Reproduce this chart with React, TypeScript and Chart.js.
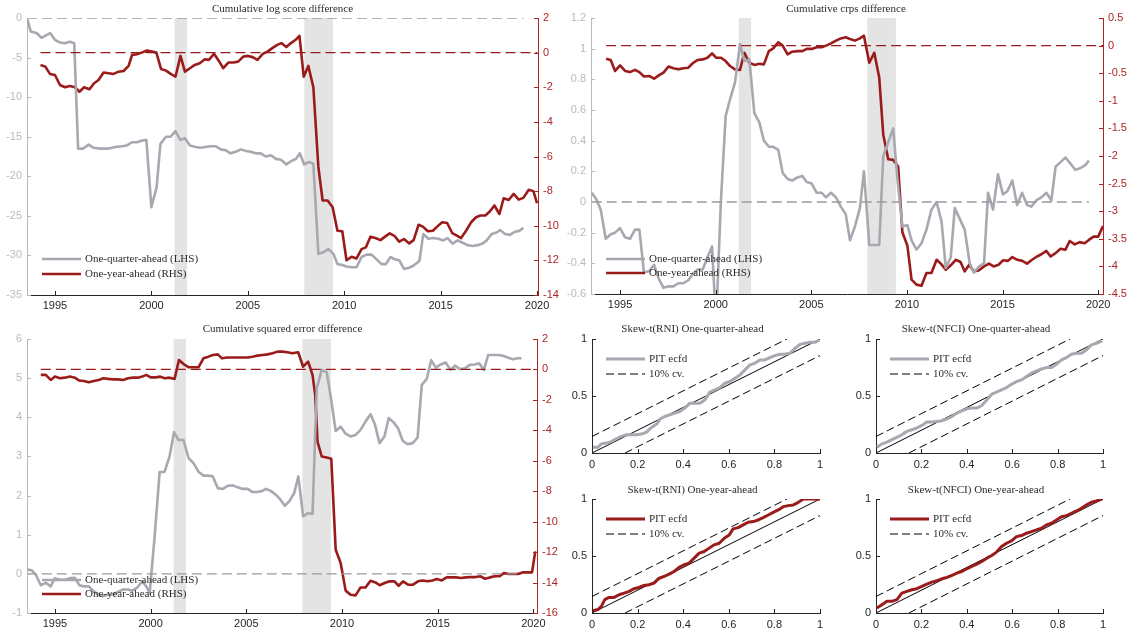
import React, { useEffect, useRef } from "react";
import { Chart, registerables } from "chart.js";

Chart.register(...registerables);

// ---------------- data ----------------
const yearTicks = [1995, 2000, 2005, 2010, 2015, 2020];
const recessions: [number, number][] = [
  [2001.2, 2001.85],
  [2007.93, 2009.42],
];

// Cumulative log score difference
const logQDates = [1993.55,1993.74,1994.05,1994.3,1994.75,1995.0,1995.26,1995.5,1995.78,1996.0,1996.2,1996.47,1996.74,1997.0,1997.35,1997.78,1998.13,1998.47,1998.73,1999.0,1999.25,1999.48,1999.74,2000.0,2000.27,2000.47,2000.76,2001.0,2001.25,2001.5,2001.74,2002.0,2002.3,2002.55,2002.8,2003.07,2003.33,2003.6,2003.85,2004.1,2004.38,2004.64,2004.9,2005.15,2005.4,2005.67,2005.93,2006.2,2006.46,2006.72,2007.0,2007.24,2007.5,2007.7,2007.92,2008.16,2008.4,2008.66,2008.92,2009.18,2009.44,2009.65,2009.9,2010.12,2010.38,2010.64,2010.9,2011.16,2011.42,2011.68,2011.94,2012.16,2012.4,2012.63,2012.85,2013.1,2013.32,2013.58,2013.9,2014.1,2014.36,2014.62,2014.88,2015.14,2015.36,2015.62,2015.88,2016.14,2016.4,2016.66,2016.92,2017.18,2017.39,2017.65,2017.9,2018.08,2018.34,2018.6,2018.86,2019.08,2019.29];
const logQVals = [0,-1.7,-1.9,-2.5,-1.9,-2.75,-3.1,-3.2,-3.0,-3.2,-16.5,-16.5,-16.0,-16.4,-16.5,-16.5,-16.3,-16.2,-16.1,-15.7,-15.7,-15.5,-15.4,-23.9,-21.4,-15.9,-15.0,-15.0,-14.3,-15.4,-15.2,-16.1,-16.3,-16.4,-16.3,-16.2,-16.2,-16.6,-16.7,-17.1,-16.9,-16.6,-16.8,-16.9,-17.1,-17.1,-17.5,-17.35,-17.8,-17.9,-18.5,-18.1,-17.8,-17.1,-18.5,-18.2,-18.4,-29.8,-29.6,-29.2,-29.8,-31.1,-31.2,-31.4,-31.5,-31.5,-30.2,-29.9,-29.9,-30.5,-31.1,-31.1,-30.2,-30.5,-30.6,-31.7,-31.6,-31.3,-30.7,-27.3,-27.9,-27.8,-27.9,-28.1,-27.8,-28.5,-28.1,-28.4,-28.7,-28.8,-28.7,-28.5,-28.1,-27.3,-27.1,-26.8,-27.3,-27.4,-27.0,-26.9,-26.5];
const logYDates = [1994.25,1994.5,1994.74,1995.0,1995.26,1995.52,1995.78,1996.04,1996.27,1996.51,1996.79,1997.03,1997.26,1997.52,1997.78,1998.04,1998.3,1998.56,1998.82,1999.0,1999.25,1999.5,1999.77,2000.03,2000.26,2000.5,2000.76,2001.0,2001.25,2001.51,2001.74,2002.0,2002.25,2002.51,2002.77,2002.98,2003.25,2003.5,2003.73,2004.0,2004.25,2004.5,2004.78,2005.02,2005.25,2005.5,2005.78,2006.04,2006.27,2006.53,2006.74,2007.0,2007.24,2007.48,2007.68,2007.9,2008.14,2008.4,2008.66,2008.88,2009.14,2009.4,2009.65,2009.9,2010.12,2010.38,2010.64,2010.9,2011.12,2011.36,2011.62,2011.88,2012.12,2012.36,2012.6,2012.85,2013.1,2013.37,2013.6,2013.86,2014.08,2014.34,2014.6,2014.82,2015.08,2015.34,2015.6,2015.8,2016.06,2016.32,2016.58,2016.84,2017.06,2017.32,2017.56,2017.79,2018.05,2018.27,2018.53,2018.79,2019.05,2019.29,2019.57,2019.81,2020.0];
const logYVals = [-0.71,-0.81,-1.23,-1.29,-1.87,-2.0,-1.93,-2.0,-2.26,-2.0,-2.12,-1.77,-1.58,-1.15,-1.19,-1.23,-1.1,-1.06,-0.77,-0.13,-0.09,0.0,0.12,0.06,0.0,-0.94,-1.04,-1.23,-1.39,-0.19,-1.1,-0.9,-0.71,-0.61,-0.38,-0.42,-0.07,-0.48,-0.9,-0.57,-0.57,-0.52,-0.22,-0.19,-0.26,-0.42,-0.07,0.07,0.26,0.45,0.55,0.32,0.55,0.74,0.97,-1.39,-0.77,-2.0,-6.6,-8.54,-8.54,-8.93,-10.29,-10.32,-11.99,-11.79,-11.89,-11.35,-11.25,-10.63,-10.71,-10.83,-10.63,-10.44,-10.58,-10.92,-10.77,-11.02,-10.83,-9.94,-10.05,-10.32,-10.29,-10.05,-9.8,-9.84,-10.42,-10.54,-10.71,-10.29,-9.8,-9.51,-9.41,-9.41,-9.16,-8.83,-9.32,-8.41,-8.51,-8.16,-8.49,-8.39,-7.92,-8.0,-8.7];
const logLhsTicks = [0, -5, -10, -15, -20, -25, -30, -35];
const logRhsTicks = [2, 0, -2, -4, -6, -8, -10, -12, -14];

// Cumulative crps difference
const crpsQDates = [1993.52,1993.75,1993.99,1994.25,1994.51,1994.74,1995.0,1995.26,1995.52,1995.78,1996.01,1996.25,1996.52,1996.78,1997.02,1997.27,1997.53,1997.79,1998.05,1998.31,1998.57,1998.8,1999.06,1999.32,1999.57,1999.81,2000.02,2000.27,2000.52,2000.75,2001.01,2001.27,2001.5,2001.76,2002.02,2002.28,2002.52,2002.78,2003.01,2003.27,2003.5,2003.76,2004.0,2004.27,2004.53,2004.76,2005.02,2005.28,2005.54,2005.77,2006.03,2006.29,2006.54,2006.8,2007.02,2007.28,2007.54,2007.75,2008.03,2008.29,2008.55,2008.76,2009.02,2009.28,2009.5,2009.76,2010.02,2010.24,2010.5,2010.76,2011.02,2011.28,2011.55,2011.81,2012.03,2012.29,2012.5,2012.76,2013.02,2013.28,2013.5,2013.77,2014.03,2014.24,2014.5,2014.76,2015.02,2015.25,2015.51,2015.76,2016.02,2016.28,2016.5,2016.76,2017.03,2017.29,2017.55,2017.77,2018.03,2018.29,2018.55,2018.8,2019.06,2019.32,2019.51];
const crpsQVals = [0.06,0.02,-0.05,-0.24,-0.21,-0.2,-0.17,-0.23,-0.24,-0.18,-0.18,-0.46,-0.45,-0.41,-0.5,-0.56,-0.55,-0.55,-0.53,-0.53,-0.51,-0.47,-0.44,-0.44,-0.36,-0.29,-0.8,0.0,0.56,0.67,0.78,1.03,0.92,0.93,0.58,0.52,0.4,0.36,0.36,0.34,0.19,0.15,0.14,0.16,0.17,0.13,0.12,0.06,0.06,0.03,0.06,0.03,-0.03,-0.08,-0.25,-0.16,-0.04,0.2,-0.28,-0.28,-0.28,0.3,0.39,0.48,0.15,-0.16,-0.15,-0.25,-0.31,-0.27,-0.18,-0.05,0.0,-0.13,-0.43,-0.36,-0.04,-0.11,-0.18,-0.4,-0.46,-0.42,-0.4,0.06,-0.05,0.18,0.05,0.07,0.14,-0.02,0.06,-0.02,-0.03,0.01,0.03,0.06,0.01,0.23,0.26,0.29,0.25,0.21,0.22,0.24,0.27];
const crpsYDates = [1994.27,1994.51,1994.74,1995.0,1995.26,1995.52,1995.78,1996.01,1996.25,1996.52,1996.78,1997.02,1997.27,1997.53,1997.79,1998.05,1998.31,1998.57,1998.8,1999.06,1999.32,1999.57,1999.81,2000.02,2000.28,2000.52,2000.75,2001.01,2001.27,2001.5,2001.76,2002.02,2002.28,2002.52,2002.78,2003.01,2003.27,2003.5,2003.76,2004.0,2004.27,2004.53,2004.76,2005.02,2005.28,2005.54,2005.77,2006.03,2006.29,2006.54,2006.8,2007.02,2007.28,2007.54,2007.75,2008.03,2008.29,2008.55,2008.76,2009.02,2009.28,2009.54,2009.76,2010.02,2010.24,2010.5,2010.76,2011.02,2011.28,2011.55,2011.77,2012.03,2012.29,2012.55,2012.8,2013.02,2013.25,2013.5,2013.77,2014.03,2014.29,2014.53,2014.79,2015.02,2015.28,2015.51,2015.77,2016.03,2016.28,2016.54,2016.8,2017.03,2017.29,2017.51,2017.77,2018.03,2018.28,2018.51,2018.77,2019.03,2019.29,2019.51,2019.76,2020.0,2020.25];
const crpsYVals = [-0.24,-0.26,-0.46,-0.36,-0.46,-0.48,-0.44,-0.48,-0.56,-0.55,-0.6,-0.54,-0.49,-0.38,-0.41,-0.43,-0.41,-0.4,-0.32,-0.26,-0.25,-0.22,-0.14,-0.22,-0.22,-0.28,-0.37,-0.43,-0.44,-0.13,-0.31,-0.35,-0.33,-0.34,-0.1,-0.05,0.06,0.0,-0.16,-0.11,-0.1,-0.1,-0.06,-0.06,-0.03,-0.03,0.0,0.04,0.09,0.13,0.15,0.12,0.09,0.13,0.18,-0.31,-0.13,-0.58,-1.61,-2.06,-2.07,-2.19,-3.38,-3.62,-4.24,-4.33,-4.35,-4.12,-4.12,-3.88,-3.95,-4.06,-3.98,-3.88,-3.92,-4.09,-3.97,-4.09,-4.07,-4.0,-3.95,-4.0,-3.97,-3.89,-3.9,-3.83,-3.88,-3.9,-3.95,-3.88,-3.82,-3.78,-3.72,-3.82,-3.76,-3.68,-3.7,-3.54,-3.6,-3.56,-3.58,-3.52,-3.46,-3.46,-3.27];
const crpsLhsTicks = [1.2, 1, 0.8, 0.6, 0.4, 0.2, 0, -0.2, -0.4, -0.6];
const crpsRhsTicks = [0.5, 0, -0.5, -1, -1.5, -2, -2.5, -3, -3.5, -4, -4.5];

// Cumulative squared error difference
const sqeQDates = [1993.53,1993.79,1994.01,1994.26,1994.52,1994.78,1995.0,1995.26,1995.52,1995.78,1996.04,1996.27,1996.51,1996.77,1997.03,1997.29,1997.52,1997.78,1998.04,1998.3,1998.56,1998.82,1999.04,1999.3,1999.56,1999.77,1999.95,2000.21,2000.47,2000.73,2000.99,2001.22,2001.46,2001.72,2001.98,2002.24,2002.5,2002.76,2003.02,2003.25,2003.51,2003.77,2004.03,2004.29,2004.55,2004.81,2005.07,2005.33,2005.59,2005.85,2006.02,2006.28,2006.54,2006.75,2007.01,2007.24,2007.5,2007.72,2007.97,2008.23,2008.46,2008.68,2008.94,2009.2,2009.41,2009.67,2009.93,2010.19,2010.45,2010.71,2010.97,2011.23,2011.49,2011.72,2011.96,2012.22,2012.44,2012.7,2012.93,2013.17,2013.43,2013.69,2013.95,2014.17,2014.43,2014.66,2014.9,2015.16,2015.42,2015.68,2015.9,2016.16,2016.42,2016.68,2016.94,2017.17,2017.41,2017.64,2017.9,2018.16,2018.42,2018.68,2018.94,2019.17,2019.38];
const sqeQVals = [0.11,0.09,-0.03,-0.29,-0.23,-0.32,-0.11,-0.15,-0.15,-0.11,-0.1,-0.29,-0.32,-0.32,-0.45,-0.53,-0.57,-0.53,-0.52,-0.46,-0.4,-0.4,-0.43,-0.35,-0.19,-0.32,-0.49,0.96,2.6,2.61,3.0,3.62,3.42,3.42,2.96,2.83,2.61,2.51,2.51,2.49,2.19,2.17,2.25,2.26,2.21,2.17,2.17,2.09,2.09,2.12,2.17,2.12,2.02,1.92,1.74,1.85,2.06,2.49,1.47,1.55,1.53,4.74,5.21,5.15,4.53,3.65,3.76,3.58,3.51,3.55,3.68,3.89,4.08,3.82,3.34,3.51,3.98,3.87,3.72,3.4,3.31,3.34,3.48,4.83,4.98,5.46,5.27,5.35,5.4,5.21,5.32,5.23,5.25,5.34,5.35,5.38,5.21,5.59,5.59,5.59,5.57,5.52,5.48,5.51,5.51];
const sqeYDates = [1994.26,1994.52,1994.78,1995.0,1995.26,1995.52,1995.78,1996.04,1996.27,1996.51,1996.77,1997.03,1997.29,1997.52,1997.78,1998.04,1998.3,1998.56,1998.82,1999.08,1999.34,1999.56,1999.77,2000.0,2000.26,2000.5,2000.73,2000.99,2001.25,2001.48,2001.74,2002.0,2002.26,2002.5,2002.76,2003.02,2003.25,2003.51,2003.73,2004.0,2004.29,2004.55,2004.81,2005.07,2005.33,2005.59,2005.85,2006.11,2006.37,2006.63,2006.89,2007.15,2007.41,2007.71,2007.97,2008.23,2008.46,2008.6,2008.72,2008.94,2009.2,2009.44,2009.67,2009.93,2010.19,2010.45,2010.71,2010.97,2011.23,2011.49,2011.75,2011.97,2012.23,2012.49,2012.74,2012.96,2013.19,2013.45,2013.71,2013.97,2014.21,2014.47,2014.73,2014.95,2015.21,2015.47,2015.73,2015.96,2016.22,2016.48,2016.74,2016.98,2017.24,2017.47,2017.73,2017.99,2018.22,2018.46,2018.72,2018.98,2019.2,2019.46,2019.72,2019.93,2020.1];
const sqeYVals = [-0.36,-0.36,-0.69,-0.47,-0.58,-0.54,-0.47,-0.54,-0.73,-0.76,-0.84,-0.76,-0.69,-0.58,-0.62,-0.65,-0.65,-0.69,-0.58,-0.54,-0.54,-0.47,-0.36,-0.52,-0.52,-0.47,-0.58,-0.54,-0.62,0.62,0.34,0.14,0.14,0.14,0.73,0.84,0.95,0.99,0.73,0.78,0.78,0.78,0.78,0.78,0.84,0.91,0.95,0.99,1.06,1.17,1.17,1.13,1.06,1.13,0.18,0.51,-0.36,-1.67,-4.74,-5.72,-5.79,-5.87,-11.84,-12.72,-14.53,-14.8,-14.84,-14.32,-14.32,-13.88,-13.99,-14.18,-14.03,-13.92,-13.92,-14.21,-13.92,-14.14,-14.14,-13.92,-13.86,-13.92,-13.86,-13.77,-13.86,-13.66,-13.66,-13.66,-13.7,-13.66,-13.64,-13.64,-13.59,-13.75,-13.66,-13.59,-13.59,-13.38,-13.44,-13.44,-13.44,-13.33,-13.33,-13.33,-11.95];
const sqeLhsTicks = [6, 5, 4, 3, 2, 1, 0, -1];
const sqeRhsTicks = [2, 0, -2, -4, -6, -8, -10, -12, -14, -16];

// PIT ecdf panels
const pitTicksX = [0, 0.2, 0.4, 0.6, 0.8, 1];
const pitTicksY = [0, 0.5, 1];
const pitCv = 0.145;
const rniQX = [0.004,0.026,0.041,0.063,0.085,0.107,0.129,0.151,0.173,0.195,0.217,0.239,0.261,0.283,0.3,0.319,0.341,0.363,0.385,0.407,0.429,0.451,0.473,0.495,0.517,0.539,0.561,0.583,0.605,0.627,0.649,0.671,0.693,0.714,0.736,0.758,0.78,0.802,0.824,0.846,0.868,0.89,0.912,0.934,0.956,0.978,0.997];
const rniQY = [0.05,0.05,0.08,0.087,0.1,0.125,0.146,0.16,0.16,0.16,0.166,0.184,0.224,0.254,0.3,0.32,0.335,0.35,0.364,0.394,0.437,0.437,0.437,0.466,0.534,0.554,0.574,0.612,0.627,0.656,0.685,0.729,0.773,0.787,0.816,0.816,0.837,0.854,0.866,0.866,0.875,0.918,0.953,0.962,0.971,0.971,0.991];
const nfciQX = [0.004,0.026,0.048,0.07,0.092,0.114,0.136,0.158,0.18,0.202,0.224,0.246,0.268,0.29,0.312,0.334,0.356,0.378,0.4,0.422,0.444,0.466,0.488,0.51,0.531,0.553,0.575,0.597,0.619,0.641,0.663,0.685,0.707,0.729,0.751,0.773,0.795,0.817,0.839,0.861,0.883,0.905,0.927,0.949,0.971,0.996];
const nfciQY = [0.05,0.08,0.096,0.117,0.137,0.16,0.19,0.204,0.219,0.242,0.271,0.271,0.277,0.283,0.3,0.32,0.35,0.37,0.388,0.394,0.394,0.417,0.466,0.516,0.534,0.554,0.574,0.603,0.627,0.641,0.67,0.7,0.72,0.738,0.749,0.749,0.778,0.816,0.837,0.866,0.875,0.875,0.904,0.948,0.962,0.983];
const rniYX = [0.004,0.026,0.041,0.056,0.075,0.097,0.119,0.141,0.163,0.184,0.206,0.228,0.25,0.272,0.294,0.316,0.338,0.36,0.382,0.404,0.426,0.448,0.47,0.492,0.514,0.536,0.558,0.58,0.602,0.619,0.641,0.663,0.685,0.707,0.729,0.751,0.773,0.795,0.817,0.839,0.861,0.883,0.905,0.927,0.949,1.0];
const rniYY = [0.02,0.03,0.058,0.117,0.137,0.137,0.16,0.175,0.19,0.213,0.224,0.242,0.248,0.262,0.306,0.32,0.341,0.364,0.4,0.423,0.437,0.481,0.525,0.539,0.569,0.598,0.612,0.656,0.685,0.738,0.749,0.773,0.796,0.802,0.816,0.837,0.86,0.883,0.904,0.933,0.942,0.948,0.971,1.0,1.0,1.0];
const nfciYX = [0.004,0.026,0.048,0.07,0.092,0.114,0.136,0.158,0.18,0.202,0.224,0.246,0.268,0.29,0.312,0.334,0.356,0.378,0.4,0.422,0.444,0.466,0.488,0.51,0.531,0.553,0.575,0.597,0.619,0.641,0.663,0.685,0.707,0.729,0.751,0.773,0.795,0.817,0.839,0.861,0.883,0.905,0.927,0.949,0.971,0.996];
const nfciYY = [0.044,0.073,0.102,0.102,0.117,0.175,0.19,0.204,0.213,0.233,0.254,0.271,0.283,0.3,0.312,0.329,0.35,0.364,0.388,0.408,0.429,0.452,0.481,0.504,0.534,0.583,0.612,0.633,0.67,0.679,0.7,0.714,0.729,0.743,0.773,0.787,0.816,0.845,0.854,0.875,0.895,0.918,0.948,0.971,0.983,1.0];

// ---------------- styles ----------------
const GRAY = "rgb(168,168,177)";
const GRAY_DASH = "rgb(155,155,160)";
const GRAY_AXIS = "rgb(185,185,190)";
const RED = "rgb(155,27,27)";
const RED_AXIS = "rgb(172,38,38)";
const DARK = "#262626";
const TEXT = "#2b2b2b";
const SHADE = "rgb(228,228,228)";
const SANS = "Liberation Sans";
const SERIF = "Liberation Serif";

const zip = (xs: number[], ys: number[]) =>
  xs.slice(0, Math.min(xs.length, ys.length)).map((x, i) => ({ x, y: ys[i] }));
const fmt = (v: any) => String(Math.round(Number(v) * 10) / 10);

// ---------------- plugins ----------------
const shadePlugin = (bands: [number, number][]) => ({
  id: "shade",
  beforeDatasetsDraw(chart: any) {
    const { ctx, chartArea: a, scales } = chart;
    const x = scales.x;
    ctx.save();
    ctx.fillStyle = SHADE;
    bands.forEach(([s, e]) => {
      const x0 = x.getPixelForValue(s);
      const x1 = x.getPixelForValue(e);
      ctx.fillRect(x0, a.top, x1 - x0, a.bottom - a.top);
    });
    ctx.restore();
  },
});

const innerTicks = {
  id: "innerTicks",
  afterDraw(chart: any) {
    const { ctx, chartArea: a } = chart;
    ctx.save();
    ctx.lineWidth = 1;
    Object.values(chart.scales).forEach((s: any) => {
      ctx.strokeStyle = s.options.border.color;
      s.ticks.forEach((t: any) => {
        const p = Math.round(s.getPixelForValue(t.value)) + 0.5;
        ctx.beginPath();
        if (s.position === "left") {
          ctx.moveTo(a.left, p);
          ctx.lineTo(a.left + 4, p);
        } else if (s.position === "right") {
          ctx.moveTo(a.right, p);
          ctx.lineTo(a.right - 4, p);
        } else {
          ctx.moveTo(p, a.bottom);
          ctx.lineTo(p, a.bottom - 4);
        }
        ctx.stroke();
      });
    });
    ctx.restore();
  },
};

const legendPlugin = (dx: number, rows: number[], fromTop: boolean) => ({
  id: "insideLegend",
  afterDatasetsDraw(chart: any) {
    const { ctx, chartArea: a } = chart;
    const items = chart.data.datasets.filter((d: any) => d.label);
    ctx.save();
    items.forEach((d: any, i: number) => {
      const y = fromTop ? a.top + rows[i] : a.bottom + rows[i];
      const x0 = a.left + dx;
      ctx.beginPath();
      ctx.setLineDash(d.borderDash || []);
      ctx.strokeStyle = d.borderColor;
      ctx.lineWidth = d.borderWidth;
      ctx.moveTo(x0, y);
      ctx.lineTo(x0 + 39, y);
      ctx.stroke();
      ctx.setLineDash([]);
      ctx.fillStyle = TEXT;
      ctx.font = `11px "${SERIF}"`;
      ctx.textBaseline = "middle";
      ctx.textAlign = "left";
      ctx.fillText(d.label, x0 + 43, y);
    });
    ctx.restore();
  },
});

// ---------------- configs ----------------
const tickFont = { family: SANS, size: 11 };

function yAxis(ticks: number[], position: "left" | "right", color: string, labelColor: string, width: number) {
  return {
    type: "linear",
    position,
    min: Math.min(...ticks),
    max: Math.max(...ticks),
    afterBuildTicks: (s: any) => {
      s.ticks = ticks.map((v) => ({ value: v }));
    },
    afterFit: (s: any) => {
      s.width = width;
    },
    grid: { display: false, drawTicks: false },
    border: { display: true, color, width: 1 },
    ticks: { color: labelColor, font: tickFont, padding: 5, autoSkip: false, callback: fmt },
  };
}

function xAxis(min: number, max: number, ticks: number[], height: number, padding: number) {
  return {
    type: "linear",
    position: "bottom",
    min,
    max,
    afterBuildTicks: (s: any) => {
      s.ticks = ticks.map((v) => ({ value: v }));
    },
    afterFit: (s: any) => {
      s.height = height;
    },
    grid: { display: false, drawTicks: false },
    border: { display: true, color: DARK, width: 1 },
    ticks: { color: DARK, font: tickFont, padding, autoSkip: false, maxRotation: 0, callback: fmt },
  };
}

type BigSpec = {
  title: string;
  xMin: number;
  xMax: number;
  lTicks: number[];
  rTicks: number[];
  qX: number[];
  qY: number[];
  yX: number[];
  yY: number[];
  lW: number;
  rW: number;
  xH: number;
  titleH: number;
  legendRows: number[];
};

function bigConfig(s: BigSpec) {
  return {
    type: "line",
    data: {
      datasets: [
        {
          data: [
            { x: s.qX[0], y: 0 },
            { x: s.qX[s.qX.length - 1], y: 0 },
          ],
          yAxisID: "yL",
          borderColor: GRAY_DASH,
          borderWidth: 1.3,
          borderDash: [10, 5],
        },
        {
          data: [
            { x: s.yX[0], y: 0 },
            { x: s.yX[s.yX.length - 1], y: 0 },
          ],
          yAxisID: "yR",
          borderColor: RED,
          borderWidth: 1.3,
          borderDash: [10, 5],
        },
        { label: "One-quarter-ahead (LHS)", data: zip(s.qX, s.qY), yAxisID: "yL", borderColor: GRAY, borderWidth: 2.6 },
        { label: "One-year-ahead (RHS)", data: zip(s.yX, s.yY), yAxisID: "yR", borderColor: RED, borderWidth: 2.6 },
      ],
    },
    options: {
      responsive: false,
      animation: false,
      events: [],
      layout: { padding: 0 },
      elements: {
        point: { radius: 0 },
        line: { tension: 0, fill: false, borderJoinStyle: "round" },
      },
      scales: {
        x: xAxis(s.xMin, s.xMax, yearTicks, s.xH, 4),
        yL: yAxis(s.lTicks, "left", GRAY_AXIS, GRAY_AXIS, s.lW),
        yR: yAxis(s.rTicks, "right", RED_AXIS, RED_AXIS, s.rW),
      },
      plugins: {
        legend: { display: false },
        tooltip: { enabled: false },
        title: {
          display: true,
          text: s.title,
          color: TEXT,
          font: { family: SERIF, size: 11, weight: "normal" },
          padding: { top: 3, bottom: s.titleH - 13.2 - 3 },
        },
      },
    },
    plugins: [shadePlugin(recessions), legendPlugin(15, s.legendRows, false), innerTicks],
  };
}

function pitConfig(title: string, xs: number[], ys: number[], color: string, titleH: number, titleTop: number, xH: number) {
  return {
    type: "line",
    data: {
      datasets: [
        { label: "PIT ecfd", data: zip(xs, ys), borderColor: color, borderWidth: 3 },
        {
          data: [
            { x: 0, y: 0 },
            { x: 1, y: 1 },
          ],
          borderColor: "#000",
          borderWidth: 1,
        },
        {
          label: "10% cv.",
          data: [
            { x: 0, y: pitCv },
            { x: 1 - pitCv, y: 1 },
          ],
          borderColor: "#000",
          borderWidth: 1,
          borderDash: [8, 4],
        },
        {
          data: [
            { x: pitCv, y: 0 },
            { x: 1, y: 1 - pitCv },
          ],
          borderColor: "#000",
          borderWidth: 1,
          borderDash: [8, 4],
        },
      ],
    },
    options: {
      responsive: false,
      animation: false,
      events: [],
      layout: { padding: { left: 0, right: 25, top: 0, bottom: 0 } },
      elements: {
        point: { radius: 0 },
        line: { tension: 0, fill: false, borderJoinStyle: "round" },
      },
      scales: {
        x: xAxis(0, 1, pitTicksX, xH, 5),
        y: yAxis(pitTicksY, "left", DARK, DARK, 27),
      },
      plugins: {
        legend: { display: false },
        tooltip: { enabled: false },
        title: {
          display: true,
          text: title,
          color: TEXT,
          font: { family: SERIF, size: 11, weight: "normal" },
          padding: { top: titleTop, bottom: titleH - 13.2 - titleTop },
        },
      },
    },
    plugins: [legendPlugin(14, [20, 35], true), innerTicks],
  };
}

// ---------------- components ----------------
function Panel({ left, top, width, height, make }: { left: number; top: number; width: number; height: number; make: () => any }) {
  const ref = useRef<HTMLCanvasElement>(null);
  useEffect(() => {
    const chart = new Chart(ref.current as HTMLCanvasElement, make());
    return () => chart.destroy();
  }, []);
  return (
    <div style={{ position: "absolute", left, top, width, height }}>
      <canvas ref={ref} width={width} height={height} style={{ width, height, display: "block" }} />
    </div>
  );
}

export default function App() {
  return (
    <div style={{ position: "absolute", left: 0, top: 0, width: 1128, height: 635, background: "#fff", overflow: "hidden" }}>
      <Panel
        left={0}
        top={0}
        width={565}
        height={315}
        make={() =>
          bigConfig({
            title: "Cumulative log score difference",
            xMin: 1993.55,
            xMax: 2020.05,
            lTicks: logLhsTicks,
            rTicks: logRhsTicks,
            qX: logQDates,
            qY: logQVals,
            yX: logYDates,
            yY: logYVals,
            lW: 27,
            rW: 27,
            xH: 20,
            titleH: 18,
            legendRows: [-36, -21],
          })
        }
      />
      <Panel
        left={564}
        top={0}
        width={564}
        height={315}
        make={() =>
          bigConfig({
            title: "Cumulative crps difference",
            xMin: 1993.48,
            xMax: 2020.25,
            lTicks: crpsLhsTicks,
            rTicks: crpsRhsTicks,
            qX: crpsQDates,
            qY: crpsQVals,
            yX: crpsYDates,
            yY: crpsYVals,
            lW: 27,
            rW: 25,
            xH: 21,
            titleH: 18,
            legendRows: [-35, -21],
          })
        }
      />
      <Panel
        left={0}
        top={320}
        width={565}
        height={315}
        make={() =>
          bigConfig({
            title: "Cumulative squared error difference",
            xMin: 1993.54,
            xMax: 2020.19,
            lTicks: sqeLhsTicks,
            rTicks: sqeRhsTicks,
            qX: sqeQDates,
            qY: sqeQVals,
            yX: sqeYDates,
            yY: sqeYVals,
            lW: 27,
            rW: 28,
            xH: 22,
            titleH: 19,
            legendRows: [-33, -19],
          })
        }
      />
      <Panel left={565} top={318} width={280} height={160} make={() => pitConfig("Skew-t(RNI) One-quarter-ahead", rniQX, rniQY, GRAY, 21, 5, 25)} />
      <Panel left={849} top={318} width={279} height={160} make={() => pitConfig("Skew-t(NFCI) One-quarter-ahead", nfciQX, nfciQY, GRAY, 21, 5, 25)} />
      <Panel left={565} top={478} width={280} height={157} make={() => pitConfig("Skew-t(RNI) One-year-ahead", rniYX, rniYY, RED, 21, 6, 22)} />
      <Panel left={849} top={478} width={279} height={157} make={() => pitConfig("Skew-t(NFCI) One-year-ahead", nfciYX, nfciYY, RED, 21, 6, 22)} />
    </div>
  );
}
